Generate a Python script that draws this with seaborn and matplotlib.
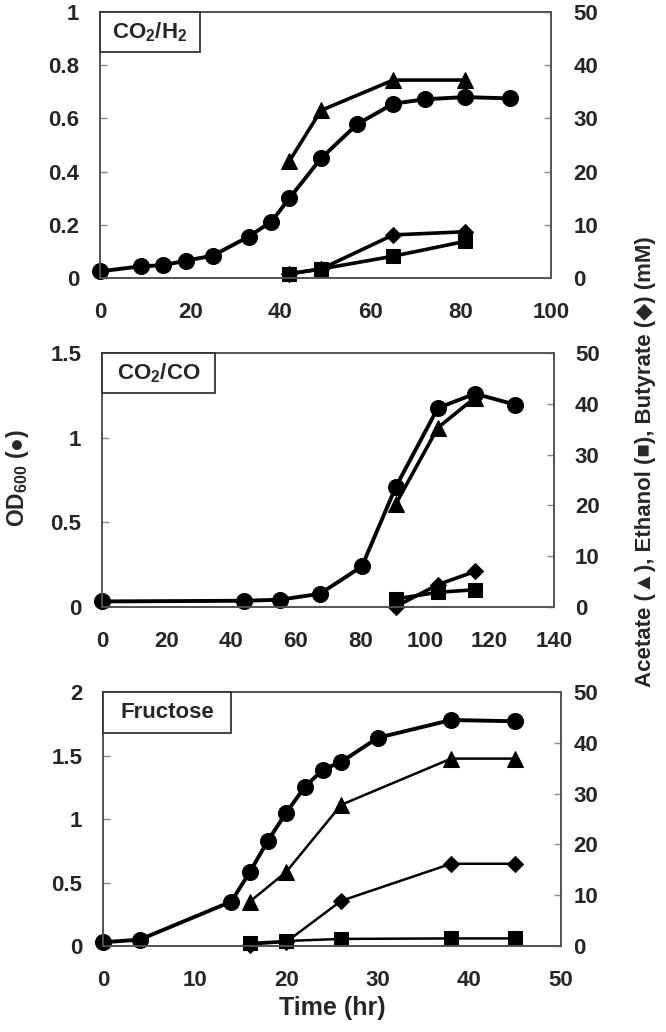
import matplotlib
matplotlib.use("Agg")
import matplotlib.pyplot as plt
from matplotlib.patches import Rectangle
import numpy as np
import seaborn as sns

# * Data
# Panel 1: CO2/H2
h2_od_t = [0, 9, 14, 19, 25, 33, 38, 42, 49, 57, 65, 72, 81, 91]
h2_od = [0.025, 0.044, 0.048, 0.065, 0.084, 0.156, 0.212, 0.30, 0.45, 0.578, 0.655, 0.672, 0.68, 0.675]
h2_prod_t = [42, 49, 65, 81]
h2_acetate = [22.0, 31.5, 37.2, 37.2]
h2_ethanol = [0.8, 1.7, 4.1, 6.9]
h2_butyrate = [0.8, 1.7, 8.1, 8.7]

# Panel 2: CO2/CO
co_od_t = [0, 44, 55, 67.5, 80.5, 91, 104, 115.5, 128]
co_od = [0.033, 0.037, 0.043, 0.078, 0.24, 0.71, 1.175, 1.26, 1.195]
co_prod_t = [91, 104, 115.5]
co_acetate = [20.3, 35.3, 41.2]
co_ethanol = [1.6, 2.9, 3.4]
co_butyrate = [0.1, 4.4, 7.0]

# Panel 3: Fructose
fr_od_t = [0, 4, 14, 16, 18, 20, 22, 24, 26, 30, 38, 45]
fr_od = [0.03, 0.05, 0.35, 0.58, 0.83, 1.05, 1.25, 1.39, 1.45, 1.64, 1.78, 1.77]
fr_prod_t = [16, 20, 26, 38, 45]
fr_acetate = [8.7, 14.6, 27.8, 36.9, 36.9]
fr_ethanol = [0.6, 1.0, 1.4, 1.5, 1.5]
fr_butyrate = [0.3, 0.8, 8.9, 16.2, 16.2]

# * Tick labels
x_ticks_1 = [0, 20, 40, 60, 80, 100]
x_ticks_2 = [0, 20, 40, 60, 80, 100, 120, 140]
x_ticks_3 = [0, 10, 20, 30, 40, 50]
od_ticks_1 = [0, 0.2, 0.4, 0.6, 0.8, 1]
od_labels_1 = ["0", "0.2", "0.4", "0.6", "0.8", "1"]
od_ticks_2 = [0, 0.5, 1, 1.5]
od_labels_2 = ["0", "0.5", "1", "1.5"]
od_ticks_3 = [0, 0.5, 1, 1.5, 2]
od_labels_3 = ["0", "0.5", "1", "1.5", "2"]
mm_ticks = [0, 10, 20, 30, 40, 50]

panel_names = [r"CO$_2$/H$_2$", r"CO$_2$/CO", "Fructose"]

sns.set_style("white")
plt.rcParams["font.family"] = ["Liberation Sans", "DejaVu Sans"]
plt.rcParams["font.weight"] = "bold"
plt.rcParams["mathtext.fontset"] = "custom"
plt.rcParams["mathtext.rm"] = "Liberation Sans:bold"
plt.rcParams["mathtext.bf"] = "Liberation Sans:bold"
plt.rcParams["mathtext.default"] = "bf"

fig = plt.figure(figsize=(6.66, 10.32), dpi=100)

# * axes rectangles [left, bottom, width, height] in figure fraction
rects = [
    [0.1502, 0.7306, 0.6772, 0.2578],
    [0.1532, 0.4118, 0.6787, 0.2461],
    [0.1547, 0.0833, 0.6877, 0.2461],
]
box_sizes = [(0.222, 0.150), (0.250, 0.157), (0.280, 0.160)]
right_pads = [16, 15, 9]

panels = [
    (h2_od_t, h2_od, h2_prod_t, h2_acetate, h2_ethanol, h2_butyrate,
     x_ticks_1, od_ticks_1, od_labels_1, 2.6),
    (co_od_t, co_od, co_prod_t, co_acetate, co_ethanol, co_butyrate,
     x_ticks_2, od_ticks_2, od_labels_2, 2.6),
    (fr_od_t, fr_od, fr_prod_t, fr_acetate, fr_ethanol, fr_butyrate,
     x_ticks_3, od_ticks_3, od_labels_3, 1.8),
]

for i, (od_t, od, pt, ac, et, bu, xt, yt, yl, lw_prod) in enumerate(panels):
    ax = fig.add_axes(rects[i])
    ax2 = ax.twinx()

    # * OD600 on the left axis
    sns.lineplot(x=od_t, y=od, ax=ax, color="black", marker="o", markersize=11.5,
                 markeredgecolor="black", linewidth=2.8, clip_on=False, zorder=5)

    # * products on the right axis
    sns.lineplot(x=pt, y=bu, ax=ax2, color="black", marker="D", markersize=8,
                 markeredgecolor="black", linewidth=lw_prod, clip_on=False)
    sns.lineplot(x=pt, y=et, ax=ax2, color="black", marker="s", markersize=10,
                 markeredgecolor="black", linewidth=lw_prod, clip_on=False)
    sns.lineplot(x=pt, y=ac, ax=ax2, color="black", marker="^", markersize=11,
                 markeredgecolor="black", linewidth=lw_prod, clip_on=False)

    ax.set_xlim(xt[0], xt[-1])
    ax.set_ylim(yt[0], yt[-1])
    ax2.set_ylim(0, 50)
    ax.set_xticks(xt, [str(v) for v in xt])
    ax.set_yticks(yt, yl)
    ax2.set_yticks(mm_ticks, [str(v) for v in mm_ticks])

    ax.tick_params(axis="y", direction="in", length=5, width=1, color="#888888",
                   labelsize=16, pad=15)
    ax.tick_params(axis="x", direction="in", length=5, width=1, color="#888888",
                   labelsize=16, pad=17)
    ax2.tick_params(axis="y", direction="in", length=5, width=1, color="#888888",
                    labelsize=16, pad=right_pads[i])
    for a in (ax, ax2):
        for lab in a.get_xticklabels() + a.get_yticklabels():
            lab.set_fontweight("bold")
        for sp in a.spines.values():
            sp.set_color("#555555")
            sp.set_linewidth(1.3)

    # * panel label box in the upper left corner
    bw, bh = box_sizes[i]
    ax2.add_patch(Rectangle((0, 1 - bh), bw, bh, transform=ax2.transAxes,
                            facecolor="white", edgecolor="#333333", linewidth=1.3,
                            zorder=10, clip_on=False))
    ax2.text(bw / 2, 1 - bh / 2, panel_names[i], transform=ax2.transAxes,
             ha="center", va="center", fontsize=16, fontweight="bold", zorder=11)

    if i == 2:
        ax.set_xlabel("Time (hr)", fontsize=18, fontweight="bold", labelpad=4)

fig.text(0.026, 1 - 478 / 1032, r"OD$_{600}$ (●)", rotation=90, ha="center",
         va="center", fontsize=16.5, fontweight="bold")
fig.text(645 / 666, 1 - 462 / 1032, "Acetate (▲), Ethanol (■), Butyrate (◆) (mM)",
         rotation=90, ha="center", va="center", fontsize=16, fontweight="bold")

fig.savefig("out.png", dpi=100)
